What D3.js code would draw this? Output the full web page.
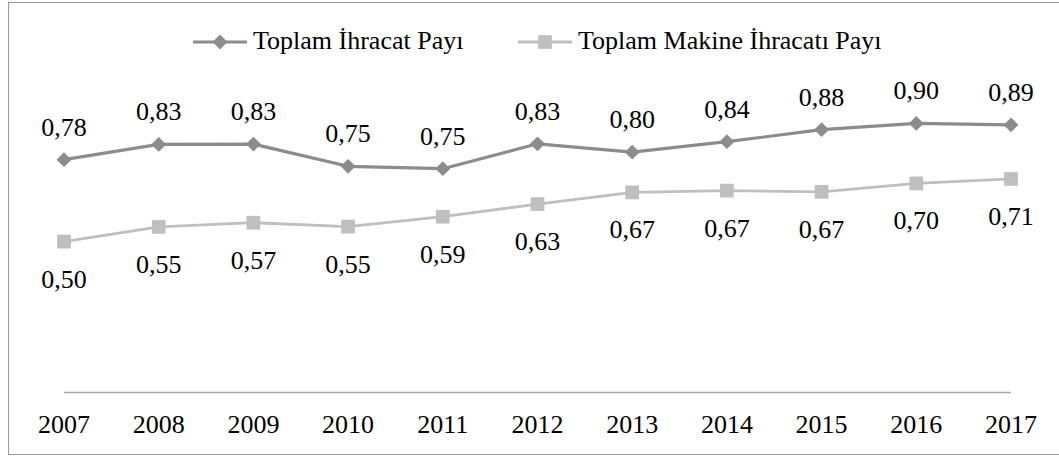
<!DOCTYPE html>
<meta charset="utf-8">
<body>
	<svg id="chart"></svg>
</body>
<script src="https://d3js.org/d3.v7.min.js"></script>
<script>

	// years on the category axis
	var years = ["2007", "2008", "2009", "2010", "2011", "2012", "2013", "2014", "2015", "2016", "2017"];

	// series names (legend)
	var seriesNames = ["Toplam İhracat Payı", "Toplam Makine İhracatı Payı"];

	// plotted values
	var toplamIhracat = [0.776, 0.827, 0.828, 0.754, 0.746, 0.829, 0.801, 0.836, 0.876, 0.897, 0.892];
	var makineIhracat = [0.503, 0.552, 0.566, 0.553, 0.586, 0.628, 0.667, 0.673, 0.669, 0.697, 0.712];

	// data labels as shown on the chart
	var toplamLabels = ["0,78", "0,83", "0,83", "0,75", "0,75", "0,83", "0,80", "0,84", "0,88", "0,90", "0,89"];
	var makineLabels = ["0,50", "0,55", "0,57", "0,55", "0,59", "0,63", "0,67", "0,67", "0,67", "0,70", "0,71"];

	var width = 1059,
		height = 456;

	var svg = d3.select("#chart")
		.attr("width", width)
		.attr("height", height);

	// chart border (right side runs off the picture)
	svg.append("rect")
		.attr("x", 8.5)
		.attr("y", 2.5)
		.attr("width", width)
		.attr("height", 452)
		.attr("fill", "white")
		.attr("stroke", "#9a9a9a")
		.attr("stroke-width", 1);

	var x = d3.scalePoint()
		.domain(years)
		.range([64, 1011]);

	var y = d3.scaleLinear()
		.domain([0, 1])
		.range([392.5, 92.5]);

	// category axis: just the base line and the year labels
	svg.append("line")
		.attr("x1", x.range()[0])
		.attr("x2", x.range()[1])
		.attr("y1", y(0))
		.attr("y2", y(0))
		.attr("stroke", "#a6a6a6")
		.attr("stroke-width", 1.5);

	svg.append("g")
		.attr("class", "years")
		.selectAll("text")
		.data(years)
		.enter().append("text")
		.attr("x", function(d) { return x(d); })
		.attr("y", 433)
		.attr("text-anchor", "middle")
		.text(function(d) { return d; });

	var series = [
		{name: seriesNames[0], values: toplamIhracat, labels: toplamLabels, color: "#8c8c8c", width: 3.2, symbol: d3.symbolDiamond2, size: 140, labelDy: -24},
		{name: seriesNames[1], values: makineIhracat, labels: makineLabels, color: "#bfbfbf", width: 2.8, symbol: d3.symbolSquare2, size: 240, labelDy: 46}
	];

	var line = d3.line()
		.x(function(d, i) { return x(years[i]); })
		.y(function(d) { return y(d); });

	series.forEach(function(s) {
		var g = svg.append("g").attr("class", "series");

		g.append("path")
			.datum(s.values)
			.attr("d", line)
			.attr("fill", "none")
			.attr("stroke", s.color)
			.attr("stroke-width", s.width)
			.attr("stroke-linejoin", "round");

		g.selectAll("path.marker")
			.data(s.values)
			.enter().append("path")
			.attr("class", "marker")
			.attr("d", d3.symbol().type(s.symbol).size(s.size))
			.attr("fill", s.color)
			.attr("transform", function(d, i) { return "translate(" + x(years[i]) + "," + y(d) + ")"; });

		g.selectAll("text")
			.data(s.values)
			.enter().append("text")
			.attr("x", function(d, i) { return x(years[i]); })
			.attr("y", function(d) { return y(d) + s.labelDy; })
			.attr("text-anchor", "middle")
			.text(function(d, i) { return s.labels[i]; });
	});

	// legend on top
	var legendX = [193, 518];
	var legend = svg.append("g").attr("class", "legend");

	series.forEach(function(s, i) {
		var lx = legendX[i];
		legend.append("line")
			.attr("x1", lx)
			.attr("x2", lx + 54)
			.attr("y1", 42)
			.attr("y2", 42)
			.attr("stroke", s.color)
			.attr("stroke-width", s.width);
		legend.append("path")
			.attr("d", d3.symbol().type(s.symbol).size(s.size)())
			.attr("fill", s.color)
			.attr("transform", "translate(" + (lx + 27) + ",42)");
		legend.append("text")
			.attr("x", lx + 60)
			.attr("y", 48.5)
			.text(s.name);
	});

</script>
<style>
	body {
		margin: 0;
		background: white;
	}
	svg {
		display: block;
	}
	text {
		font-family: "Liberation Serif", "Times New Roman", serif;
		font-size: 26px;
		fill: #000;
	}
</style>
</html>
